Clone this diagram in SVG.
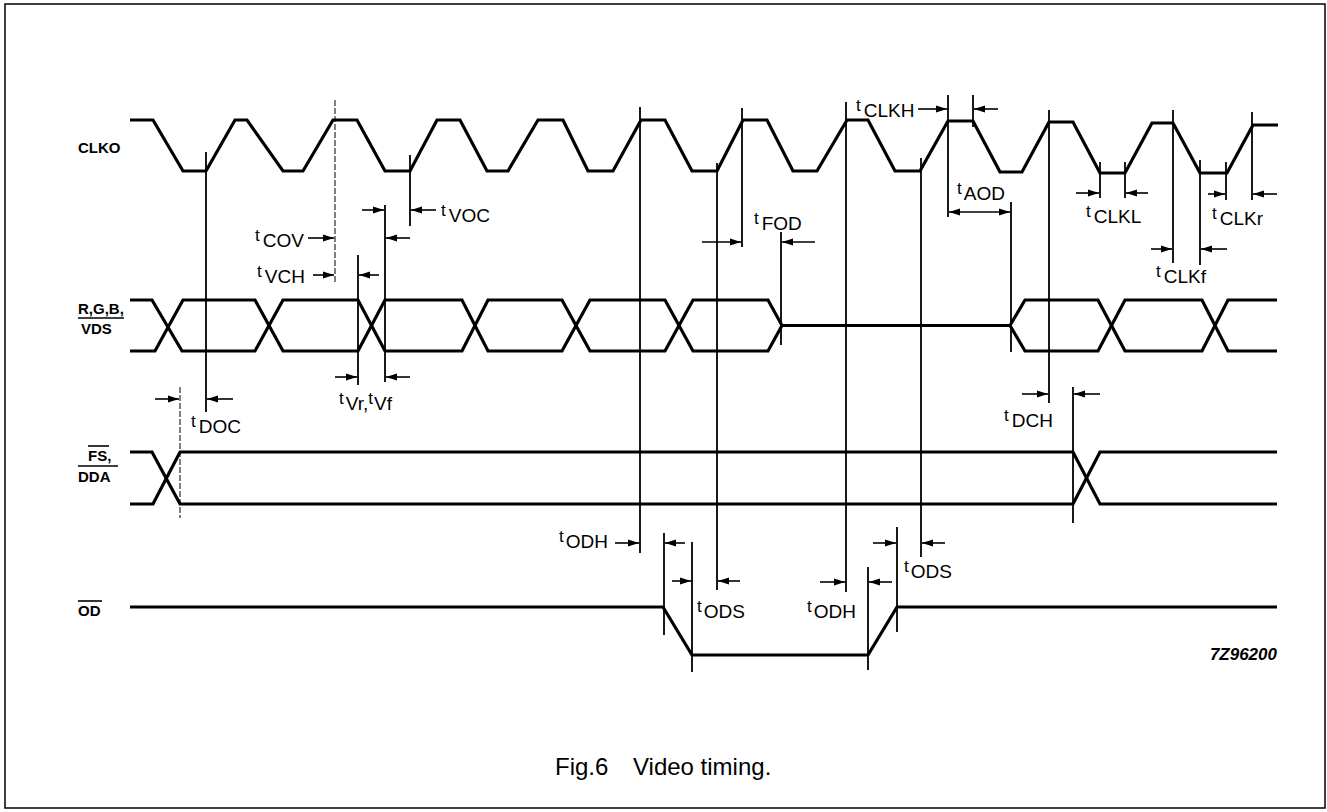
<svg xmlns="http://www.w3.org/2000/svg" width="1327" height="812" viewBox="0 0 1327 812">
<style>
.wave{fill:none;stroke:#000;stroke-width:3.2;stroke-linejoin:miter}
.vl{stroke:#000;stroke-width:1.8;fill:none}
.thin{stroke:#000;stroke-width:1;stroke-dasharray:6 2;fill:none}
.arr{stroke:#000;stroke-width:1.6;marker-end:url(#ah)}
.dbl{stroke:#000;stroke-width:1.6;marker-end:url(#ah);marker-start:url(#ah)}
.ol{stroke:#000;stroke-width:1.6}
.lbl{font-family:"Liberation Sans",Arial,sans-serif;font-weight:bold;font-size:15px;fill:#000}
.t{font-family:"Liberation Sans",Arial,sans-serif;font-size:17px;fill:#000}
.s{font-size:19px}
.cap{font-family:"Liberation Sans",Arial,sans-serif;font-size:24px;fill:#000}
.code{font-family:"Liberation Sans",Arial,sans-serif;font-size:17px;font-weight:bold;font-style:italic;fill:#000}
</style>
<defs>
<marker id="ah" markerUnits="userSpaceOnUse" markerWidth="11" markerHeight="8" viewBox="0 0 11 8" refX="11" refY="4" orient="auto-start-reverse"><path d="M0,0.5 L11,4 L0,7.5 Z" fill="#000"/></marker>
</defs>
<rect x="5" y="4" width="1320" height="804" fill="#fff" stroke="#000" stroke-width="1.5"/>

<g id="signal-labels">
<text class="lbl" x="78" y="153">CLKO</text>
<text class="lbl" x="78" y="314">R,G,B,</text>
<line class="ol" x1="78" y1="318" x2="124" y2="318"/>
<text class="lbl" x="81" y="334">VDS</text>
<line class="ol" x1="88" y1="446" x2="109" y2="446"/>
<text class="lbl" x="88" y="461">FS,</text>
<line class="ol" x1="78" y1="466" x2="118" y2="466"/>
<text class="lbl" x="78" y="482">DDA</text>
<line class="ol" x1="78" y1="601" x2="102" y2="601"/>
<text class="lbl" x="78" y="616">OD</text>
</g>

<g id="waveforms">
<path id="clko" class="wave" d="M130,120 H153 L183,171 H206 L235,120 H247 L283,171 H303 L333,120 H357 L385,171 H410 L437,120 H460 L487,171 H508 L538,120 H563 L588,171 H613 L641,120 H665 L692,171 H717 L743,120 H767 L793,171 H817 L847,120 H868 L895,171 H920 L948,121 H973 L1000,172 H1022 L1049,122 H1073 L1100,173 H1125 L1152,123 H1173 L1200,173 H1227 L1253,125 H1278"/>
<g id="rgb">
<path class="wave" d="M130,300 H152 L182,351 H255 L283,300 H358 L385,351 H462 L488,300 H562 L590,351 H665 L693,300 H768 L782,325.5 H1010 L1025,351 H1098 L1125,300 H1202 L1228,351 H1277"/>
<path class="wave" d="M130,351 H155 L183,300 H255 L283,351 H358 L385,300 H462 L488,351 H562 L590,300 H665 L693,351 H768 L782,325.5 M1010,325.5 L1025,300 H1098 L1125,351 H1202 L1228,300 H1277"/>
</g>
<g id="fs-dda">
<path class="wave" d="M130,452 H152 L180,504 H1073 L1100,452 H1277"/>
<path class="wave" d="M130,504 H153 L180,452 H1073 L1100,504 H1277"/>
</g>
<path id="od" class="wave" d="M130,607 H663 L692,655 H868 L897,607 H1277"/>
</g>

<g id="connectors">
<line class="thin" x1="180" y1="387" x2="180" y2="518"/>
<line class="vl" x1="206" y1="152" x2="206" y2="412"/>
<line class="thin" x1="335" y1="100" x2="335" y2="282"/>
<line class="vl" x1="358" y1="255" x2="358" y2="385"/>
<line class="vl" x1="385" y1="205" x2="385" y2="382"/>
<line class="vl" x1="410" y1="155" x2="410" y2="226"/>
<line class="vl" x1="640" y1="107" x2="640" y2="553"/>
<line class="vl" x1="664" y1="533" x2="664" y2="635"/>
<line class="vl" x1="692" y1="542" x2="692" y2="672"/>
<line class="vl" x1="717" y1="163" x2="717" y2="590"/>
<line class="vl" x1="742" y1="108" x2="742" y2="247"/>
<line class="vl" x1="781" y1="232" x2="781" y2="345"/>
<line class="vl" x1="846" y1="102" x2="846" y2="592"/>
<line class="vl" x1="868" y1="567" x2="868" y2="670"/>
<line class="vl" x1="897" y1="527" x2="897" y2="632"/>
<line class="vl" x1="921" y1="158" x2="921" y2="557"/>
<line class="vl" x1="948" y1="95" x2="948" y2="217"/>
<line class="vl" x1="973" y1="95" x2="973" y2="127"/>
<line class="vl" x1="1011" y1="202" x2="1011" y2="352"/>
<line class="vl" x1="1049" y1="110" x2="1049" y2="403"/>
<line class="vl" x1="1073" y1="387" x2="1073" y2="523"/>
<line class="vl" x1="1100" y1="162" x2="1100" y2="198"/>
<line class="vl" x1="1125" y1="162" x2="1125" y2="198"/>
<line class="vl" x1="1173" y1="110" x2="1173" y2="263"/>
<line class="vl" x1="1200" y1="160" x2="1200" y2="265"/>
<line class="vl" x1="1226" y1="162" x2="1226" y2="200"/>
<line class="vl" x1="1252" y1="112" x2="1252" y2="200"/>

<line class="arr" x1="155" y1="399" x2="179" y2="399"/>
<line class="arr" x1="233" y1="399" x2="207" y2="399"/>
<line class="arr" x1="308" y1="238" x2="334" y2="238"/>
<line class="arr" x1="410" y1="238" x2="386" y2="238"/>
<line class="arr" x1="313" y1="275" x2="334" y2="275"/>
<line class="arr" x1="379" y1="275" x2="359" y2="275"/>
<line class="arr" x1="362" y1="210" x2="384" y2="210"/>
<line class="arr" x1="436" y1="210" x2="411" y2="210"/>
<line class="arr" x1="335" y1="377" x2="357" y2="377"/>
<line class="arr" x1="410" y1="377" x2="386" y2="377"/>
<line class="arr" x1="702" y1="242" x2="741" y2="242"/>
<line class="arr" x1="815" y1="242" x2="782" y2="242"/>
<line class="arr" x1="918" y1="109" x2="947" y2="109"/>
<line class="arr" x1="998" y1="109" x2="974" y2="109"/>
<line class="dbl" x1="949" y1="212" x2="1010" y2="212"/>
<line class="arr" x1="1076" y1="193" x2="1099" y2="193"/>
<line class="arr" x1="1148" y1="193" x2="1126" y2="193"/>
<line class="arr" x1="1151" y1="249" x2="1172" y2="249"/>
<line class="arr" x1="1227" y1="249" x2="1201" y2="249"/>
<line class="arr" x1="1208" y1="194" x2="1225" y2="194"/>
<line class="arr" x1="1277" y1="194" x2="1253" y2="194"/>
<line class="arr" x1="1022" y1="394" x2="1048" y2="394"/>
<line class="arr" x1="1100" y1="394" x2="1074" y2="394"/>
<line class="arr" x1="615" y1="543" x2="639" y2="543"/>
<line class="arr" x1="685" y1="543" x2="665" y2="543"/>
<line class="arr" x1="672" y1="581" x2="691" y2="581"/>
<line class="arr" x1="740" y1="581" x2="718" y2="581"/>
<line class="arr" x1="820" y1="582" x2="845" y2="582"/>
<line class="arr" x1="892" y1="582" x2="869" y2="582"/>
<line class="arr" x1="873" y1="543" x2="896" y2="543"/>
<line class="arr" x1="945" y1="543" x2="922" y2="543"/>
</g>

<g id="timing-labels">
<text class="t" x="255" y="241">t<tspan class="s" dx="3" dy="6">COV</tspan></text>
<text class="t" x="257" y="277">t<tspan class="s" dx="3" dy="6">VCH</tspan></text>
<text class="t" x="441" y="216">t<tspan class="s" dx="3" dy="6">VOC</tspan></text>
<text class="t" x="339" y="404">t<tspan class="s" dx="2" dy="6">Vr</tspan><tspan class="s">,</tspan><tspan dy="-6">t</tspan><tspan class="s" dx="1" dy="6">Vf</tspan></text>
<text class="t" x="191" y="427">t<tspan class="s" dx="3" dy="6">DOC</tspan></text>
<text class="t" x="1004" y="421">t<tspan class="s" dx="3" dy="6">DCH</tspan></text>
<text class="t" x="754" y="224">t<tspan class="s" dx="3" dy="6">FOD</tspan></text>
<text class="t" x="856" y="111">t<tspan class="s" dx="3" dy="6">CLKH</tspan></text>
<text class="t" x="957" y="194">t<tspan class="s" dx="2" dy="6">AOD</tspan></text>
<text class="t" x="1086" y="217">t<tspan class="s" dx="3" dy="6">CLKL</tspan></text>
<text class="t" x="1156" y="277">t<tspan class="s" dx="3" dy="6">CLKf</tspan></text>
<text class="t" x="1212" y="219">t<tspan class="s" dx="3" dy="6">CLKr</tspan></text>
<text class="t" x="559" y="542">t<tspan class="s" dx="2" dy="6">ODH</tspan></text>
<text class="t" x="697" y="612">t<tspan class="s" dx="2" dy="6">ODS</tspan></text>
<text class="t" x="807" y="612">t<tspan class="s" dx="2" dy="6">ODH</tspan></text>
<text class="t" x="904" y="572">t<tspan class="s" dx="2" dy="6">ODS</tspan></text>
</g>

<text class="code" x="1277" y="660" text-anchor="end">7Z96200</text>
<text class="cap" x="555" y="775">Fig.6<tspan x="633">Video timing.</tspan></text>
</svg>
